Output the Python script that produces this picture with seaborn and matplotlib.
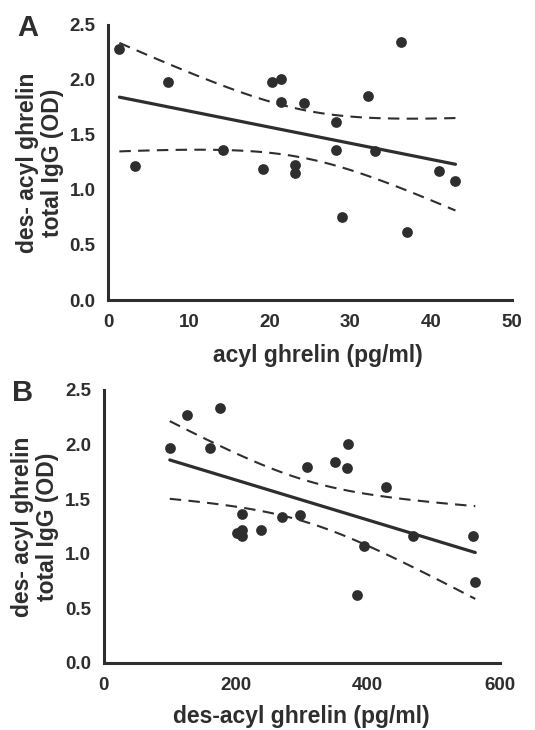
import matplotlib
matplotlib.use('Agg')
import numpy as np
import seaborn as sns
from matplotlib import pyplot as plt

# panel A: acyl ghrelin vs des-acyl ghrelin total IgG
acyl_x = [1.4, 3.3, 7.4, 14.2, 19.2, 20.3, 21.4, 21.4, 24.3, 23.1,
          23.1, 28.2, 28.2, 29.0, 32.2, 33.1, 36.3, 37.0, 41.0, 43.0]
acyl_y = [2.28, 1.22, 1.98, 1.36, 1.19, 1.98, 2.01, 1.80, 1.79, 1.23,
          1.15, 1.62, 1.36, 0.75, 1.85, 1.35, 2.34, 0.62, 1.17, 1.08]

# panel B: des-acyl ghrelin vs des-acyl ghrelin total IgG
desacyl_x = [100, 126, 176, 161, 210, 202, 210, 210, 238, 270, 298,
             308, 350, 370, 369, 394, 384, 427, 469, 560, 563]
desacyl_y = [1.97, 2.27, 2.33, 1.97, 1.36, 1.19, 1.22, 1.16, 1.22, 1.34, 1.35,
             1.79, 1.84, 2.00, 1.78, 1.07, 0.62, 1.61, 1.16, 1.16, 0.74]

y_ticks = [0.0, 0.5, 1.0, 1.5, 2.0, 2.5]
ylabel = "des- acyl ghrelin\ntotal IgG (OD)"

INK = '#2e2e2e'

sns.set_style("white")
plt.rcParams['font.family'] = ['Liberation Sans', 'DejaVu Sans']
plt.rcParams['font.weight'] = 'bold'


def fit_with_ci(x, y, n_pts=100):
    x = np.asarray(x, float)
    y = np.asarray(y, float)
    n = len(x)
    slope, intercept = np.polyfit(x, y, 1)
    resid = y - (slope * x + intercept)
    s = np.sqrt(np.sum(resid ** 2) / (n - 2))
    xs = np.linspace(x.min(), x.max(), n_pts)
    fit = slope * xs + intercept
    # t(0.975, n-2) approx for n ~ 20
    t = 2.10
    se = s * np.sqrt(1 / n + (xs - x.mean()) ** 2 / np.sum((x - x.mean()) ** 2))
    return xs, fit, fit - t * se, fit + t * se


def draw_panel(ax, x, y, xmax, xstep, xlabel):
    sns.scatterplot(x=x, y=y, ax=ax, color=INK, s=60, edgecolor=INK, linewidth=0, zorder=3)
    xs, fit, lo, hi = fit_with_ci(x, y)
    ax.plot(xs, fit, color=INK, lw=2.3, zorder=2)
    for band in (lo, hi):
        ax.plot(xs, band, color=INK, lw=1.5, dashes=(5.5, 3.5), zorder=2)
    ax.set_xlim(0, xmax)
    ax.set_ylim(0, 2.5)
    ax.set_xticks(np.arange(0, xmax + 1, xstep))
    ax.set_yticks(y_ticks)
    ax.set_yticklabels([f"{v:.1f}" for v in y_ticks])
    sns.despine(ax=ax)
    for side in ('left', 'bottom'):
        ax.spines[side].set_linewidth(2.2)
        ax.spines[side].set_color(INK)
    ax.tick_params(direction='out', length=5, width=2, colors=INK, labelsize=13.5)
    ax.tick_params(axis='x', pad=5)
    ax.tick_params(axis='y', pad=4)
    for lab in ax.get_xticklabels() + ax.get_yticklabels():
        lab.set_fontweight('bold')
    ax.set_xlabel(xlabel, fontsize=16.5, fontweight='bold', color=INK)
    ax.set_ylabel(ylabel, fontsize=16.5, fontweight='bold', color=INK, linespacing=1.15)


fig = plt.figure(figsize=(5.35, 7.3), dpi=100)
axA = fig.add_axes([0.202, 0.589, 0.755, 0.377])
axB = fig.add_axes([0.194, 0.092, 0.740, 0.374])

draw_panel(axA, acyl_x, acyl_y, 50, 10, "acyl ghrelin (pg/ml)")
draw_panel(axB, desacyl_x, desacyl_y, 600, 200, "des-acyl ghrelin (pg/ml)")

axA.xaxis.set_label_coords(0.52, -0.16)
axB.xaxis.set_label_coords(0.50, -0.155)
axA.yaxis.set_label_coords(-0.108, 0.5)
axB.yaxis.set_label_coords(-0.112, 0.5)

fig.text(17 / 535, 1 - 14 / 730, "A", fontsize=21, fontweight='bold', color=INK, ha='left', va='top')
fig.text(12 / 535, 1 - 379 / 730, "B", fontsize=21, fontweight='bold', color=INK, ha='left', va='top')

fig.savefig("out.png", dpi=100)
